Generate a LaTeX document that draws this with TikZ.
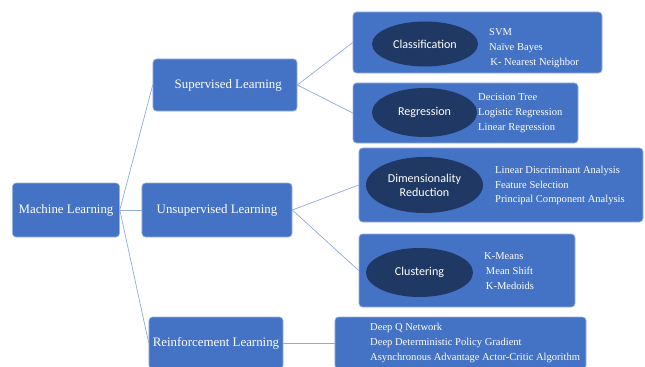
\documentclass[tikz,border=0pt]{standalone}
\usepackage{fontspec}
\setmainfont{Liberation Serif}
\newfontfamily\ovalfont{Carlito}
\usetikzlibrary{shapes.geometric}
\definecolor{boxblue}{HTML}{4472C4}
\definecolor{ovalnavy}{HTML}{203864}
\definecolor{linkblue}{HTML}{8FAADC}
\tikzset{
  bluebox/.style={draw=boxblue!55!white, line width=0.5pt, fill=boxblue, rounded corners=3pt,
    text=white, inner sep=0pt, font=\fontsize{11}{13}\selectfont},
  oval/.style={ellipse, fill=ovalnavy, text=white, inner sep=0pt, align=center,
    font=\ovalfont\fontsize{10.3}{12}\selectfont},
  items/.style={anchor=west, text=white, align=left, inner sep=0pt,
    font=\fontsize{9}{12.75}\selectfont},
  link/.style={draw=linkblue, line width=0.6pt}
}
\begin{document}
\begin{tikzpicture}[x=0.03cm,y=-0.03cm]
	\useasboundingbox (0,0) rectangle (645,367);
	% outer boxes
	\node[bluebox, minimum width=3.21cm, minimum height=1.62cm] (ml) at (66,210) {Machine Learning};
	\node[bluebox, minimum width=4.32cm, minimum height=1.56cm] (sup) at (225,85) {\hspace{0.5em}Supervised Learning};
	\node[bluebox, minimum width=4.5cm, minimum height=1.62cm] (unsup) at (217,210) {Unsupervised Learning};
	\node[bluebox, minimum width=4.02cm, minimum height=1.56cm] (reinf) at (216,343) {Reinforcement Learning};
	% right hand boxes
	\node[bluebox, minimum width=7.47cm, minimum height=1.83cm] (classbox) at (477.5,42.5) {};
	\node[bluebox, minimum width=6.75cm, minimum height=1.8cm] (regbox) at (465.5,113) {};
	\node[bluebox, minimum width=8.52cm, minimum height=2.22cm] (dimbox) at (501,185) {};
	\node[bluebox, minimum width=6.48cm, minimum height=2.19cm] (clubox) at (467,270.5) {};
	\node[bluebox, minimum width=7.53cm, minimum height=1.56cm] (rlbox) at (460.5,343) {};
	% ovals
	\node[oval, minimum width=3.18cm, minimum height=1.35cm] (class) at (425,44) {Classification};
	\node[oval, minimum width=3.15cm, minimum height=1.47cm] (reg) at (424.5,112.5) {Regression};
	\node[oval, minimum width=3.51cm, minimum height=1.68cm] (dim) at (424.5,185) {Dimensionality\\Reduction};
	\node[oval, minimum width=3.21cm, minimum height=1.47cm] (clu) at (419.5,272.5) {Clustering};
	% algorithm lists
	\node[items] (classlist) at (489,48.5) {SVM\\Naïve Bayes\\\hspace{1pt}K- Nearest Neighbor};
	\node[items] (reglist) at (478,113.5) {Decision Tree\\Logistic Regression\\Linear Regression};
	\node[items] (dimlist) at (495,185.5) {Linear Discriminant Analysis\\Feature Selection\\Principal Component Analysis};
	\node[items] (clulist) at (484,271.5) {K-Means\\\hspace{1.5pt}Mean Shift\\\hspace{1.5pt}K-Medoids};
	\node[items] (rllist) at (370,343) {Deep Q Network\\Deep Deterministic Policy Gradient\\Asynchronous Advantage Actor-Critic Algorithm};
	% connectors
	\draw[link] (ml.east) -- (sup.west);
	\draw[link] (ml.east) -- (unsup.west);
	\draw[link] (ml.east) -- (reinf.west);
	\draw[link] (sup.east) -- (classbox.west);
	\draw[link] (sup.east) -- (regbox.west);
	\draw[link] (unsup.east) -- (dimbox.west);
	\draw[link] (unsup.east) -- (clubox.west);
	\draw[link] (reinf.east) -- (rlbox.west);
\end{tikzpicture}
\end{document}
